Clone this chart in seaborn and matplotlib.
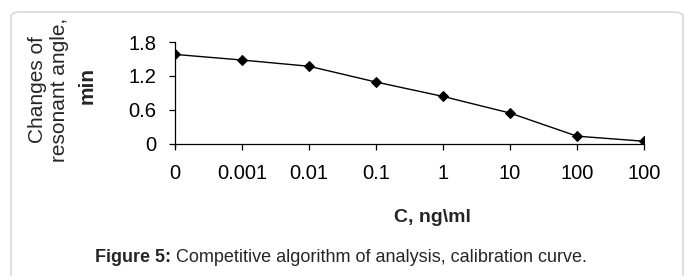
import numpy as np
import pandas as pd
import matplotlib
matplotlib.use("Agg")
import matplotlib.pyplot as plt
from matplotlib.patches import FancyBboxPatch
import seaborn as sns

# data
conc_labels = ["0", "0.001", "0.01", "0.1", "1", "10", "100", "100"]
angle_change = [1.58, 1.48, 1.37, 1.09, 0.835, 0.54, 0.13, 0.04]
y_ticks = [0, 0.6, 1.2, 1.8]
y_tick_labels = ["0", "0.6", "1.2", "1.8"]

sns.set_style("ticks")
plt.rcParams['font.family'] = ['Liberation Sans', 'DejaVu Sans']

df = pd.DataFrame({"pos": np.arange(len(conc_labels)), "val": angle_change})

fig = plt.figure(figsize=(6.85, 2.76), dpi=100)
W, H = 685, 276

# light grey card behind the figure
card = FancyBboxPatch((11 / W, -0.2), 683 / W - 11 / W, 1 - 12 / H + 0.2,
                      boxstyle="round,pad=0,rounding_size=0.015",
                      transform=fig.transFigure, facecolor="white",
                      edgecolor="#d9d9d9", linewidth=1.2, zorder=-10)
fig.patches.append(card)

ax = fig.add_axes([175 / W, 1 - 143.5 / H, (644 - 175) / W, (143.5 - 42) / H])
ax.set_facecolor("none")
sns.lineplot(data=df, x="pos", y="val", ax=ax, color="black", linewidth=1,
             marker="D", markersize=5, markeredgecolor="black")

ax.set_xlim(0, len(conc_labels) - 1)
ax.set_ylim(0, 1.8)
ax.set_xticks(df["pos"])
ax.set_xticklabels(conc_labels)
ax.set_yticks(y_ticks)
ax.set_yticklabels(y_tick_labels)
ax.tick_params(axis="both", length=4.5, width=0.9, colors="black", labelsize=14.5)
ax.tick_params(axis="y", pad=9)
ax.tick_params(axis="x", pad=10)
for s in ["top", "right"]:
    ax.spines[s].set_visible(False)
for s in ["left", "bottom"]:
    ax.spines[s].set_linewidth(0.9)
    ax.spines[s].set_color("black")
ax.spines["left"].set_bounds(-0.06, 1.8)

ax.set_xlabel("C, ng\\ml", fontsize=14, fontweight="bold", va="center")
ax.xaxis.set_label_coords((432 - 175) / (644 - 175), -(218 - 143.5) / (143.5 - 42))
ax.set_ylabel("")

# y label: two plain lines plus bold unit
fig.text(49 / W, 1 - 90 / H, "Changes of\nresonant angle,", rotation=90,
         ha="center", va="center", fontsize=15, linespacing=1.2, multialignment="center")
fig.text(87 / W, 1 - 86 / H, "min", rotation=90, ha="center", va="center",
         fontsize=15, fontweight="bold")

# caption
cap_b = fig.text(95 / W, 1 - 257 / H, "Figure 5:", fontsize=13, fontweight="bold",
                 ha="left", va="center")
fig.canvas.draw()
bb = cap_b.get_window_extent()
fig.text(bb.x1 / W + 5 / W, 1 - 257 / H, "Competitive algorithm of analysis, calibration curve.",
         fontsize=13, ha="left", va="center")

fig.savefig("out.png", dpi=100)
